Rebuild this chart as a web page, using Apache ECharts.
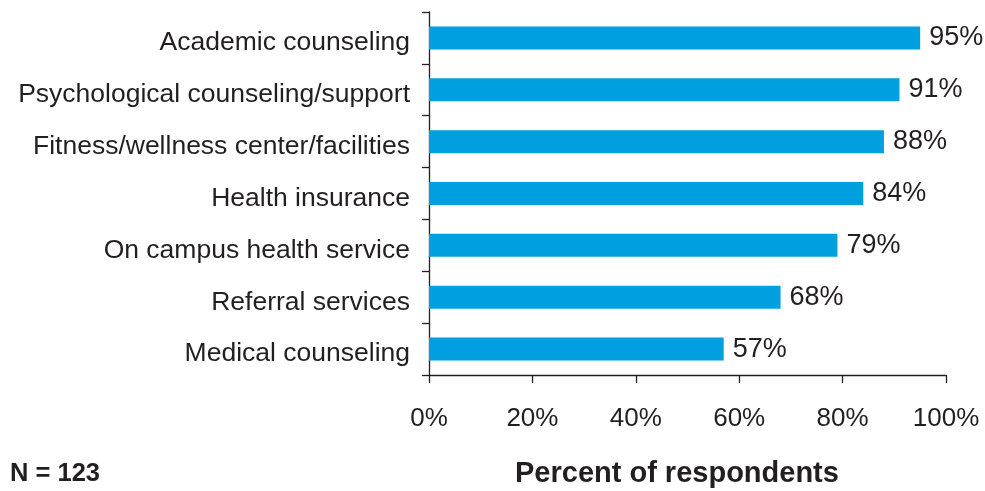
<!DOCTYPE html>
<html>
<head>
<meta charset="utf-8">
<script src="https://cdn.jsdelivr.net/npm/echarts@6/dist/echarts.min.js"></script>
<style>
  html, body { margin: 0; padding: 0; background: #fff; }
  #chart { width: 985px; height: 491px; }
</style>
</head>
<body>
<div id="chart"></div>
<script>
// Services, listed top to bottom
const categories = [
  'Academic counseling',
  'Psychological counseling/support',
  'Fitness/wellness center/facilities',
  'Health insurance',
  'On campus health service',
  'Referral services',
  'Medical counseling'
];
// Percent of respondents for each service
const values = [95, 91, 88, 84, 79, 68, 57];
const xTicks = [0, 20, 40, 60, 80, 100];

const textColor = '#231f20';
const font = '"Liberation Sans", Arial, sans-serif';

const chart = echarts.init(document.getElementById('chart'));
chart.setOption({
  animation: false,
  textStyle: { fontFamily: font },
  grid: { left: 429, right: 39, top: 12, bottom: 116, containLabel: false },
  xAxis: {
    type: 'value',
    min: xTicks[0],
    max: xTicks[xTicks.length - 1],
    interval: 20,
    axisLine: { show: true, lineStyle: { color: textColor, width: 1.3 } },
    axisTick: { show: true, length: 8, lineStyle: { color: textColor, width: 1.3 } },
    splitLine: { show: false },
    axisLabel: {
      formatter: v => v + '%',
      color: textColor, fontSize: 26, fontFamily: font, margin: 31
    }
  },
  yAxis: {
    type: 'category',
    data: categories,
    inverse: true,
    axisLine: { show: true, lineStyle: { color: textColor, width: 1.3 } },
    axisTick: { show: true, length: 7, alignWithLabel: false, lineStyle: { color: textColor, width: 1.3 } },
    axisLabel: {
      margin: 19,
      formatter: v => '{t|' + v + '}',
      rich: {
        // pushed a little below the band centre
        t: { color: textColor, fontSize: 26.5, fontFamily: font, padding: [10, 0, 0, 0] }
      }
    }
  },
  graphic: [
    { type: 'text', left: 10, top: 461, style: { text: 'N = 123', font: 'bold 25.5px ' + font, fill: textColor } },
    { type: 'text', left: 515, top: 459, style: { text: 'Percent of respondents', font: 'bold 29px ' + font, fill: textColor } }
  ],
  series: [{
    type: 'bar',
    data: values,
    barWidth: 23,
    itemStyle: { color: '#009fdf' },
    label: {
      show: true,
      position: 'right',
      distance: 9,
      formatter: p => p.value + '%',
      color: textColor,
      fontSize: 27,
      fontFamily: font
    }
  }]
});
</script>
</body>
</html>
